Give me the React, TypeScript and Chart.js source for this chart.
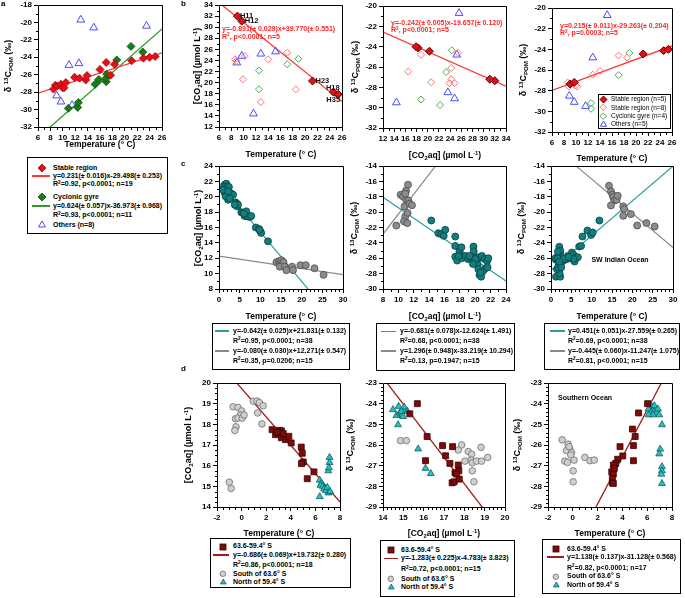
import React, { useEffect, useRef } from 'react';
import { Chart, registerables } from 'chart.js';

Chart.register(...registerables);

const FONT = "'Liberation Sans', Arial, Helvetica, sans-serif";

// ---------- panel a : d13C POM vs temperature ----------
const aStableT = [8.5, 8.8, 9.1, 9.7, 9.95, 10.2, 10.5, 11.9, 12.7, 13.7, 13.9, 16.0, 17.0, 17.7, 18.35, 21.1, 23.0, 24.0, 24.9];
const aStableD13C = [-27.65, -27.2, -27.3, -27.1, -27.5, -27.5, -26.9, -26.3, -26.4, -26.6, -26.1, -25.4, -24.6, -26.05, -24.8, -24.4, -24.1, -24.0, -23.9];
const aGyreT = [10.9, 12.4, 12.5, 15.2, 15.8, 17.0, 17.0, 17.1, 18.7, 21.0, 22.9];
const aGyreD13C = [-29.85, -29.75, -29.2, -27.1, -26.55, -26.8, -26.4, -25.95, -24.3, -22.75, -23.4];
const aOtherT = [12.9, 15.0, 11.0, 12.6, 9.0, 9.7, 11.5, 23.5];
const aOtherD13C = [-19.7, -20.6, -24.9, -24.7, -28.4, -29.1, -29.5, -20.4];
const aFitStable = [0.231, -29.498];
const aFitGyre = [0.624, -36.973];

// ---------- panel b : stations ----------
const bHNames = ['H11', 'H12', 'H23', 'H18', 'H35'];
const bHT = [9.0, 9.7, 21.2, 24.6, 25.4];
const bHCO2 = [32.0, 31.1, 20.3, 18.3, 17.9];
const bHD13C = [-27.35, -27.2, -24.45, -24.13, -24.0];
const bStableT = [8.6, 8.8, 10.2, 9.9, 14.0, 17.1, 12.8, 18.5];
const bStableCO2 = [24.2, 23.9, 24.8, 20.6, 24.2, 25.4, 16.5, 18.8];
const bStableD13C = [-27.2, -27.6, -27.6, -27.5, -26.1, -24.6, -26.45, -24.8];
const bGyreT = [12.5, 12.5, 17.1, 18.9];
const bGyreCO2 = [22.2, 18.8, 23.3, 24.3];
const bGyreD13C = [-29.75, -29.2, -26.5, -24.35];
const bOtherT = [8.9, 9.7, 12.8, 15.2, 11.6];
const bOtherCO2 = [23.6, 24.8, 25.2, 25.6, 14.4];
const bOtherD13C = [-28.5, -29.1, -24.8, -20.7, -29.5];
const bFit1 = [-0.891, 39.77];
const bFit2 = [-0.242, -19.657];
const bFit3 = [0.215, -29.263];

// ---------- panel c : SW Indian Ocean ----------
const c1TealT = [1.37, 1.77, 1.2, 1.6, 2.0, 2.4, 1.37, 1.77, 2.0, 2.2, 2.4, 2.7, 3.0, 3.4, 1.9, 1.6, 4.0, 4.35, 4.35, 4.6, 5.4, 5.8, 6.2, 6.6, 6.8, 7.4, 7.8, 8.9, 9.7, 10.0, 10.2, 11.85, 0.97, 2.26, 2.6, 3.8, 6.05, 9.8];
const c1TealCO2 = [21.57, 21.7, 21.26, 21.0, 21.35, 21.26, 20.5, 20.27, 19.97, 19.6, 20.3, 20.1, 20.4, 20.27, 20.7, 20.05, 19.27, 19.1, 18.75, 18.97, 17.97, 17.9, 17.5, 18.1, 17.45, 17.37, 17.5, 16.0, 15.8, 15.5, 15.3, 14.2, 20.9, 20.7, 19.8, 18.97, 17.8, 15.7];
const c1GrayT = [13.9, 14.5, 14.8, 15.1, 15.3, 15.6, 14.7, 15.9, 16.3, 17.7, 17.9, 19.7, 21.0, 23.1, 25.3];
const c1GrayCO2 = [11.48, 11.6, 11.3, 11.75, 11.05, 11.5, 10.9, 10.9, 10.45, 10.9, 10.45, 11.1, 11.1, 10.7, 9.84];
const c2TealCO2 = [14.28, 15.2, 15.6, 15.9, 16.1, 17.4, 17.4, 17.4, 17.65, 17.95, 18.2, 18.1, 18.25, 18.75, 19.05, 19.4, 19.77, 19.8, 19.77, 20.1, 20.2, 20.3, 20.4, 20.55, 20.77, 20.55, 20.86, 21.2, 21.33, 21.55, 21.7, 21.0, 20.0, 17.83, 20.7, 21.6, 19.26, 19.7];
const c2TealD13C = [-21.09, -22.74, -22.87, -23.08, -22.3, -23.17, -24.4, -25.8, -26.3, -25.1, -24.57, -25.7, -26.0, -25.7, -26.1, -26.0, -24.48, -25.1, -26.2, -25.87, -26.4, -26.85, -27.4, -28.17, -28.4, -25.87, -25.7, -26.1, -27.3, -26.35, -26.0, -27.7, -26.1, -25.7, -27.87, -27.17, -25.7, -26.74];
const c2GrayCO2 = [9.73, 10.3, 10.6, 10.8, 10.9, 10.73, 11.16, 11.0, 11.25, 11.0, 11.3, 11.2, 11.46, 11.77, 10.9];
const c2GrayD13C = [-21.74, -17.74, -17.96, -19.26, -20.57, -21.2, -21.43, -17.2, -16.43, -18.4, -18.48, -20.1, -18.9, -19.1, -17.6];
const c3TealT = [1.22, 2.28, 2.1, 1.47, 1.87, 1.22, 1.47, 1.87, 2.28, 2.04, 2.28, 2.53, 2.85, 3.34, 3.9, 4.16, 4.73, 5.13, 5.54, 5.8, 6.1, 6.6, 6.93, 7.4, 7.74, 8.96, 9.86, 10.27, 11.9, 1.06, 1.63, 1.71, 3.1, 1.87, 2.53, 5.54, 4.32, 2.04];
const c3TealD13C = [-28.4, -28.4, -27.96, -27.43, -27.0, -26.2, -25.9, -25.7, -25.4, -24.5, -25.0, -26.1, -26.4, -26.2, -26.1, -25.7, -26.0, -25.26, -25.56, -26.43, -25.87, -25.87, -24.48, -24.4, -23.17, -22.4, -22.96, -22.65, -21.09, -26.0, -26.0, -25.13, -26.1, -27.2, -27.17, -26.1, -25.87, -26.43];
const c3GrayT = [14.26, 14.75, 15.1, 15.3, 15.57, 14.75, 16.14, 16.4, 17.77, 18.0, 17.77, 19.64, 21.19, 23.47, 25.5];
const c3GrayD13C = [-16.57, -17.3, -17.74, -18.04, -18.48, -19.13, -18.4, -17.87, -19.26, -19.6, -20.48, -20.26, -21.74, -21.43, -21.87];
const cFit1Teal = [-0.642, 21.831];
const cFit1Gray = [-0.080, 12.271];
const cFit2Teal = [-0.681, -12.624];
const cFit2Gray = [1.296, -33.219];
const cFit3Teal = [0.451, -27.559];
const cFit3Gray = [-0.445, -11.247];

// ---------- panel d : Southern Ocean ----------
const d1MidT = [2.48, 2.76, 3.08, 3.24, 3.16, 3.3, 3.24, 3.57, 3.84, 4.03, 4.85, 4.93, 5.01, 4.87, 5.88, 5.34, 2.89, 3.38];
const d1MidCO2 = [17.74, 17.5, 17.71, 17.68, 17.55, 17.42, 17.35, 17.26, 17.42, 17.1, 16.9, 16.6, 16.18, 16.1, 15.7, 15.37, 17.63, 17.55];
const d1SouthT = [-1.0, -0.85, -0.7, -0.3, 0.0, -0.1, -0.5, -0.3, 0.05, 0.2, -0.45, -0.55, 0.95, 1.25, 1.45, 1.75, 1.3, 1.65];
const d1SouthCO2 = [15.2, 14.9, 18.85, 18.82, 18.65, 18.45, 18.27, 18.3, 18.3, 18.45, 17.88, 17.7, 19.12, 19.13, 19.05, 18.9, 18.55, 18.02];
const d1NorthT = [6.35, 6.5, 6.42, 6.6, 6.7, 6.85, 6.97, 6.35, 7.05, 7.05, 7.15, 7.15, 7.1, 7.2];
const d1NorthCO2 = [15.3, 15.15, 15.05, 15.0, 14.88, 14.8, 14.95, 14.5, 14.68, 15.75, 16.4, 16.15, 15.9, 14.75];
const d2MidCO2 = [15.69, 15.32, 16.17, 16.93, 17.42, 17.08, 17.29, 17.7, 16.09, 17.54, 17.4, 17.5, 17.73, 17.75, 17.62];
const d2MidD13C = [-24.0, -24.49, -25.59, -26.03, -26.08, -26.52, -26.89, -26.97, -26.76, -27.34, -27.83, -27.78, -27.25, -27.65, -27.41];
const d2SouthCO2 = [14.86, 15.15, 17.87, 17.7, 18.19, 18.36, 18.03, 18.33, 18.39, 18.6, 18.85, 18.39, 18.47, 18.82, 19.15];
const d2SouthD13C = [-25.79, -25.79, -26.0, -26.24, -26.32, -26.45, -26.78, -26.73, -26.86, -26.78, -26.78, -27.25, -27.78, -26.11, -26.6];
const d2NorthCO2 = [14.49, 14.77, 14.66, 14.82, 14.94, 15.07, 15.2, 15.04, 14.9, 14.74, 15.73, 16.09, 16.35, 14.99];
const d2NorthD13C = [-24.29, -24.13, -24.57, -24.45, -24.54, -24.32, -24.37, -24.16, -24.37, -25.02, -26.19, -27.13, -27.38, -24.62];
const d3MidT = [6.03, 5.3, 4.81, 5.03, 4.89, 3.81, 4.03, 3.62, 3.46, 3.27, 4.89, 3.14, 3.27, 3.19, 3.19, 3.27, 3.35];
const d3MidD13C = [-24.0, -24.45, -25.23, -25.59, -26.03, -26.08, -26.53, -26.69, -26.89, -26.97, -26.76, -27.3, -27.41, -27.62, -27.83, -27.86, -27.13];
const d3SouthT = [-0.86, -0.38, -0.24, -0.51, -0.1, -0.16, -0.65, -0.43, 0.1, 0.03, 0.03, 0.97, 1.38, 1.73, -0.3];
const d3SouthD13C = [-25.75, -25.96, -26.2, -26.27, -26.37, -26.48, -26.78, -26.84, -26.73, -27.25, -27.78, -26.6, -26.76, -26.73, -26.08];
const d3NorthT = [6.24, 6.38, 6.57, 6.11, 6.32, 6.57, 6.78, 6.46, 6.11, 6.86, 6.97, 7.19, 7.05, 6.97, 7.19, 7.19, 7.14, 7.19];
const d3NorthD13C = [-24.05, -24.16, -24.1, -24.26, -24.42, -24.37, -24.42, -24.54, -24.54, -24.26, -24.54, -25.02, -26.2, -26.43, -27.05, -27.25, -27.41, -27.86];
const dFit1 = [-0.686, 19.732];
const dFit2 = [-1.283, -4.783];
const dFit3 = [1.138, -31.128];

// ---------- styles ----------
const C_RED = '#e3101a';
const C_RED_LINE = '#ff3838';
const C_GREEN = '#177d17';
const C_GREEN_LINE = '#2c9c2c';
const C_BLUE = '#4a4aff';
const C_PINK = '#ff7474';
const C_LGREEN = '#4cae4c';
const C_TEAL = '#107f7e';
const C_TEAL_LINE = '#2a9e9e';
const C_GRAY = '#8c8c8c';
const C_GRAY_LINE = '#8a8a8a';
const C_MAROON = '#7d0b0b';
const C_MAROON_LINE = '#a01c1c';
const C_LGRAY = '#cfcfcf';
const C_CYAN = '#22c3c6';
const C_EQ = '#ff2626';
const NONE = 'rgba(0,0,0,0)';

type Series = { x: number[]; y: number[]; shape: string; r: number; fill: string; stroke: string; bw: number };
type Fit = { k: number[]; span: number[]; color: string; w: number };
type Tag = { text: string; x: number; y: number; dx: number; dy: number };
type Spec = { box: number[]; xr: number[]; yr: number[]; series: Series[]; fits: Fit[]; tags?: Tag[] };

const PL = 40, PT = 8, PR = 8, PB = 24;

function ChartPanel({ spec }: { spec: Spec }) {
  const ref = useRef<HTMLCanvasElement | null>(null);
  const [l, t, r, b] = spec.box;
  const W = r - l + PL + PR;
  const H = b - t + PT + PB;
  useEffect(() => {
    const cv = ref.current;
    if (!cv) return;
    const ds: any[] = spec.series.map((s) => ({
      data: s.x.map((v, i) => ({ x: v, y: s.y[i] })),
      pointStyle: s.shape,
      pointRadius: s.r,
      pointHoverRadius: s.r,
      pointBackgroundColor: s.fill,
      pointBorderColor: s.stroke,
      pointBorderWidth: s.bw,
      backgroundColor: s.fill,
      borderColor: s.stroke,
      showLine: false,
    }));
    spec.fits.forEach((f) =>
      ds.push({
        data: f.span.map((x) => ({ x, y: f.k[0] * x + f.k[1] })),
        showLine: true,
        pointRadius: 0,
        borderColor: f.color,
        borderWidth: f.w,
        fill: false,
      })
    );
    const tickFont = { family: FONT, size: 8, weight: 'bold' };
    const mk = (rng: number[], pos: string, horiz: boolean) => ({
      type: 'linear',
      position: pos,
      min: rng[0],
      max: rng[1],
      ticks: {
        stepSize: rng[2],
        color: '#000',
        font: tickFont,
        padding: 2,
        maxRotation: 0,
        autoSkip: false,
        callback: (v: any) => String(Math.round(Number(v) * 1000) / 1000),
      },
      grid: { display: true, drawOnChartArea: false, drawTicks: true, tickLength: 4, color: '#000', tickColor: '#000', lineWidth: 1, tickWidth: 1 },
      border: { display: false },
      title: { display: false },
      afterFit: (sc: any) => {
        if (horiz) sc.height = PB;
        else sc.width = PL;
      },
    });
    const deco = {
      id: 'deco',
      afterDraw(ch: any) {
        const { ctx, chartArea: a } = ch;
        const sx = ch.scales.x;
        const sy = ch.scales.y;
        ctx.save();
        ctx.strokeStyle = '#000';
        ctx.lineWidth = 1;
        const L = Math.round(a.left) + 0.5;
        const T = Math.round(a.top) + 0.5;
        const R = Math.round(a.right) + 0.5;
        const B = Math.round(a.bottom) + 0.5;
        ctx.beginPath();
        ctx.rect(L, T, R - L, B - T);
        ctx.stroke();
        const minor = (rng: number[], cb: (v: number) => void) => {
          const n = Math.round((rng[1] - rng[0]) / rng[3]);
          for (let i = 0; i <= n; i++) {
            const v = rng[0] + i * rng[3];
            const q = v / rng[2];
            if (Math.abs(q - Math.round(q)) < 1e-6) continue;
            cb(v);
          }
        };
        ctx.beginPath();
        minor(spec.xr, (v) => {
          const p = Math.round(sx.getPixelForValue(v)) + 0.5;
          ctx.moveTo(p, B);
          ctx.lineTo(p, B + 2.5);
        });
        minor(spec.yr, (v) => {
          const p = Math.round(sy.getPixelForValue(v)) + 0.5;
          ctx.moveTo(L, p);
          ctx.lineTo(L - 2.5, p);
        });
        ctx.stroke();
        if (spec.tags) {
          ctx.fillStyle = '#111';
          ctx.font = `bold 7.5px ${FONT}`;
          ctx.textBaseline = 'middle';
          ctx.textAlign = 'left';
          spec.tags.forEach((tg) => ctx.fillText(tg.text, sx.getPixelForValue(tg.x) + tg.dx, sy.getPixelForValue(tg.y) + tg.dy));
        }
        ctx.restore();
      },
    };
    const chart = new Chart(cv, {
      type: 'scatter',
      data: { datasets: ds },
      options: {
        responsive: false,
        maintainAspectRatio: false,
        animation: false,
        events: [],
        layout: { padding: { left: 0, top: PT, right: PR, bottom: 0 } },
        plugins: { legend: { display: false }, tooltip: { enabled: false }, title: { display: false } },
        scales: { x: mk(spec.xr, 'bottom', true), y: mk(spec.yr, 'left', false) } as any,
      },
      plugins: [deco],
    } as any);
    return () => chart.destroy();
  }, []);
  return <canvas ref={ref} width={W} height={H} style={{ position: 'absolute', left: l - PL, top: t - PT, width: W, height: H }} />;
}

// ---------- panel specs ----------
const ser = (x: number[], y: number[], shape: string, r: number, fill: string, stroke: string, bw = 1): Series => ({ x, y, shape, r, fill, stroke, bw });
const tagOffsets = [[2.5, 0], [3, 0], [3, 0], [-7.5, -4.5], [-12, 5.7]];

const specs: Spec[] = [
  {
    box: [38, 5, 162, 127], xr: [6, 26, 2, 1], yr: [-32, -18, 2, 1],
    series: [
      ser(aStableT, aStableD13C, 'rectRot', 4, C_RED, '#b00000', 0.8),
      ser(aGyreT, aGyreD13C, 'rectRot', 4, C_GREEN, '#0b4d0b', 0.8),
      ser(aOtherT, aOtherD13C, 'triangle', 4.5, NONE, C_BLUE, 1),
    ],
    fits: [
      { k: aFitStable, span: [6, 26], color: C_RED_LINE, w: 1.3 },
      { k: aFitGyre, span: [6, 26], color: C_GREEN_LINE, w: 1.3 },
    ],
  },
  {
    box: [219, 5, 342, 127], xr: [6, 26, 2, 1], yr: [12, 34, 2, 1],
    series: [
      ser(bHT, bHCO2, 'rectRot', 4, C_RED, '#5a0000', 1),
      ser(bStableT, bStableCO2, 'rectRot', 3.5, NONE, C_PINK, 1),
      ser(bGyreT, bGyreCO2, 'rectRot', 3.5, NONE, C_LGREEN, 1),
      ser(bOtherT, bOtherCO2, 'triangle', 4.5, NONE, C_BLUE, 1),
    ],
    fits: [{ k: bFit1, span: [6, 26], color: C_RED_LINE, w: 1.3 }],
    tags: bHNames.map((n, i) => ({ text: n, x: bHT[i], y: bHCO2[i], dx: tagOffsets[i][0], dy: tagOffsets[i][1] })),
  },
  {
    box: [383, 6, 506, 128], xr: [12, 34, 2, 1], yr: [-32, -20, 2, 1],
    series: [
      ser(bHCO2, bHD13C, 'rectRot', 4, C_RED, '#5a0000', 1),
      ser(bStableCO2, bStableD13C, 'rectRot', 3.5, NONE, C_PINK, 1),
      ser(bGyreCO2, bGyreD13C, 'rectRot', 3.5, NONE, C_LGREEN, 1),
      ser(bOtherCO2, bOtherD13C, 'triangle', 4.5, NONE, C_BLUE, 1),
    ],
    fits: [{ k: bFit2, span: [12, 34], color: C_RED_LINE, w: 1.3 }],
  },
  {
    box: [552, 8, 672, 132], xr: [6, 26, 2, 1], yr: [-32, -20, 2, 1],
    series: [
      ser(bHT, bHD13C, 'rectRot', 4, C_RED, '#5a0000', 1),
      ser(bStableT, bStableD13C, 'rectRot', 3.5, NONE, C_PINK, 1),
      ser(bGyreT, bGyreD13C, 'rectRot', 3.5, NONE, C_LGREEN, 1),
      ser(bOtherT, bOtherD13C, 'triangle', 4.5, NONE, C_BLUE, 1),
    ],
    fits: [{ k: bFit3, span: [6, 26], color: C_RED_LINE, w: 1.3 }],
  },
  {
    box: [219, 166, 343, 289], xr: [0, 30, 5, 1], yr: [8, 24, 2, 1],
    series: [
      ser(c1TealT, c1TealCO2, 'circle', 3.5, C_TEAL, '#0a4040', 0.8),
      ser(c1GrayT, c1GrayCO2, 'circle', 3.5, C_GRAY, '#4a4a4a', 0.8),
    ],
    fits: [
      { k: cFit1Teal, span: [0, 30], color: C_TEAL_LINE, w: 1.2 },
      { k: cFit1Gray, span: [0, 30], color: C_GRAY_LINE, w: 1.2 },
    ],
  },
  {
    box: [383, 166, 506, 289], xr: [8, 24, 2, 1], yr: [-30, -14, 2, 1],
    series: [
      ser(c2TealCO2, c2TealD13C, 'circle', 3.5, C_TEAL, '#0a4040', 0.8),
      ser(c2GrayCO2, c2GrayD13C, 'circle', 3.5, C_GRAY, '#4a4a4a', 0.8),
    ],
    fits: [
      { k: cFit2Teal, span: [8, 24], color: C_TEAL_LINE, w: 1.2 },
      { k: cFit2Gray, span: [8, 24], color: C_GRAY_LINE, w: 1.2 },
    ],
  },
  {
    box: [551, 166, 673, 289], xr: [0, 30, 5, 1], yr: [-30, -14, 2, 1],
    series: [
      ser(c3TealT, c3TealD13C, 'circle', 3.5, C_TEAL, '#0a4040', 0.8),
      ser(c3GrayT, c3GrayD13C, 'circle', 3.5, C_GRAY, '#4a4a4a', 0.8),
    ],
    fits: [
      { k: cFit3Teal, span: [0, 30], color: C_TEAL_LINE, w: 1.2 },
      { k: cFit3Gray, span: [0, 30], color: C_GRAY_LINE, w: 1.2 },
    ],
  },
  {
    box: [217, 383, 340, 507], xr: [-2, 8, 2, 0.5], yr: [14, 20, 1, 0.25],
    series: [
      ser(d1MidT, d1MidCO2, 'rect', 4.2, C_MAROON, '#3a0000', 0.8),
      ser(d1SouthT, d1SouthCO2, 'circle', 3.3, C_LGRAY, '#6e6e6e', 0.8),
      ser(d1NorthT, d1NorthCO2, 'triangle', 4, C_CYAN, '#145a5a', 0.8),
    ],
    fits: [{ k: dFit1, span: [-2, 8], color: C_MAROON_LINE, w: 1.3 }],
  },
  {
    box: [383, 383, 505, 507], xr: [14, 20, 1, 0.2], yr: [-29, -23, 1, 0.2],
    series: [
      ser(d2MidCO2, d2MidD13C, 'rect', 4.2, C_MAROON, '#3a0000', 0.8),
      ser(d2SouthCO2, d2SouthD13C, 'circle', 3.3, C_LGRAY, '#6e6e6e', 0.8),
      ser(d2NorthCO2, d2NorthD13C, 'triangle', 4, C_CYAN, '#145a5a', 0.8),
    ],
    fits: [{ k: dFit2, span: [14, 20], color: C_MAROON_LINE, w: 1.3 }],
  },
  {
    box: [548, 383, 672, 507], xr: [-2, 8, 2, 0.5], yr: [-29, -23, 1, 0.2],
    series: [
      ser(d3MidT, d3MidD13C, 'rect', 4.2, C_MAROON, '#3a0000', 0.8),
      ser(d3SouthT, d3SouthD13C, 'circle', 3.3, C_LGRAY, '#6e6e6e', 0.8),
      ser(d3NorthT, d3NorthD13C, 'triangle', 4, C_CYAN, '#145a5a', 0.8),
    ],
    fits: [{ k: dFit3, span: [-2, 8], color: C_MAROON_LINE, w: 1.3 }],
  },
];

// ---------- text helpers ----------
const Sup = ({ children }: any) => <span style={{ fontSize: '0.68em', position: 'relative', top: '-0.55em' }}>{children}</span>;
const Sub = ({ children }: any) => <span style={{ fontSize: '0.68em', position: 'relative', top: '0.35em' }}>{children}</span>;

function Tx({ x, y, s = 7, w = 700, c = '#000', center = false, children }: any) {
  const lh = s * 1.2;
  return (
    <div style={{ position: 'absolute', left: x, top: y - lh / 2, fontSize: s, lineHeight: `${lh}px`, fontFamily: FONT, fontWeight: w, color: c, whiteSpace: 'nowrap', transform: center ? 'translateX(-50%)' : undefined }}>
      {children}
    </div>
  );
}
function VTx({ x, y, s = 9, children }: any) {
  return (
    <div style={{ position: 'absolute', left: x, top: y, fontSize: s, lineHeight: `${s * 1.2}px`, fontFamily: FONT, fontWeight: 700, whiteSpace: 'nowrap', transform: 'translate(-50%,-50%) rotate(-90deg)' }}>
      {children}
    </div>
  );
}
function Box({ l, t, r, b }: any) {
  return <div style={{ position: 'absolute', left: l, top: t, width: r - l, height: b - t, border: '1px solid #000', boxSizing: 'border-box', background: '#fff' }} />;
}
function LineMark({ x0, x1, y, c }: any) {
  return <div style={{ position: 'absolute', left: x0, top: y - 0.75, width: x1 - x0, height: 1.5, background: c }} />;
}
function Mark({ x, y, kind, fill, stroke, r, sw = 1 }: any) {
  const s = 2 * r + 4;
  const c = s / 2;
  let shape: any = null;
  if (kind === 'diamond') shape = <polygon points={`${c},${c - r} ${c + r},${c} ${c},${c + r} ${c - r},${c}`} fill={fill} stroke={stroke} strokeWidth={sw} />;
  else if (kind === 'tri') shape = <polygon points={`${c},${c - r} ${c + r * 0.866},${c + r * 0.5} ${c - r * 0.866},${c + r * 0.5}`} fill={fill} stroke={stroke} strokeWidth={sw} />;
  else if (kind === 'circle') shape = <circle cx={c} cy={c} r={r} fill={fill} stroke={stroke} strokeWidth={sw} />;
  else shape = <rect x={c - r} y={c - r} width={2 * r} height={2 * r} fill={fill} stroke={stroke} strokeWidth={sw} />;
  return (
    <svg width={s} height={s} style={{ position: 'absolute', left: x - c, top: y - c, overflow: 'visible' }}>
      {shape}
    </svg>
  );
}

const D13 = () => (
  <>
    δ <Sup>13</Sup>C<Sub>POM</Sub> (‰)
  </>
);
const CO2T = () => (
  <>
    [CO<Sub>2</Sub>aq] (µmol L<Sup>-1</Sup>)
  </>
);
const R2 = ({ t }: any) => (
  <>
    R<Sup>2</Sup>
    {t}
  </>
);
const TEMP = 'Temperature (° C)';

export default function App() {
  return (
    <div style={{ position: 'absolute', left: 0, top: 0, width: 685, height: 598, background: '#fff', overflow: 'hidden' }}>
      {specs.map((s, i) => (
        <ChartPanel key={i} spec={s} />
      ))}

      {/* panel letters */}
      <Tx x={1} y={4} s={8}>a</Tx>
      <Tx x={181} y={4} s={8}>b</Tx>
      <Tx x={181} y={164} s={8}>c</Tx>
      <Tx x={181} y={369} s={8}>d</Tx>

      {/* axis titles */}
      <Tx x={100} y={144} s={8.5} center>{TEMP}</Tx>
      <Tx x={281} y={154} s={8.5} center>{TEMP}</Tx>
      <Tx x={445} y={155} s={8.5} center><CO2T /></Tx>
      <Tx x={612} y={158} s={8.5} center>{TEMP}</Tx>
      <Tx x={281} y={316} s={8.5} center>{TEMP}</Tx>
      <Tx x={445} y={316.5} s={8.5} center><CO2T /></Tx>
      <Tx x={612} y={316} s={8.5} center>{TEMP}</Tx>
      <Tx x={279} y={533} s={8.5} center>{TEMP}</Tx>
      <Tx x={444} y={533} s={8.5} center><CO2T /></Tx>
      <Tx x={610} y={533} s={8.5} center>{TEMP}</Tx>

      <VTx x={9} y={66}><D13 /></VTx>
      <VTx x={198} y={66}><CO2T /></VTx>
      <VTx x={356} y={67}><D13 /></VTx>
      <VTx x={524} y={70}><D13 /></VTx>
      <VTx x={199} y={227.5}><CO2T /></VTx>
      <VTx x={355} y={227.5}><D13 /></VTx>
      <VTx x={522} y={227.5}><D13 /></VTx>
      <VTx x={189} y={445}><CO2T /></VTx>
      <VTx x={351} y={445}><D13 /></VTx>
      <VTx x={518} y={445}><D13 /></VTx>

      {/* in-plot equations (panel b) */}
      <Tx x={222} y={29} c={C_EQ}>y=-0.891(± 0.029)x+39.770(± 0.551)</Tx>
      <Tx x={222} y={37} c={C_EQ}><R2 t={', p<0.0001; n=5'} /></Tx>
      <Tx x={391} y={22.7} c={C_EQ}>y=-0.242(± 0.005)x-19.657(± 0.120)</Tx>
      <Tx x={391} y={30.5} c={C_EQ}><R2 t={', p<0.0001; n=5'} /></Tx>
      <Tx x={560} y={26} c={C_EQ}>y=0.215(± 0.011)x-29.263(± 0.204)</Tx>
      <Tx x={560} y={33.5} c={C_EQ}><R2 t={', p=0.0003; n=5'} /></Tx>

      <Tx x={620} y={260} s={7} center>SW Indian Ocean</Tx>
      <Tx x={558} y={398} s={7}>Southern Ocean</Tx>

      {/* legend a */}
      <Box l={27} t={157} r={168} b={234} />
      <Mark x={42} y={168} kind="diamond" r={4} fill={C_RED} stroke="#b00000" sw={0.8} />
      <Tx x={53} y={168}>Stable region</Tx>
      <LineMark x0={32} x1={50} y={176} c={C_RED_LINE} />
      <Tx x={53} y={176}>y=0.231(± 0.016)x-29.498(± 0.253)</Tx>
      <Tx x={53} y={184.5}><R2 t={'=0.92, p<0.0001; n=19'} /></Tx>
      <Mark x={42} y={197} kind="diamond" r={4} fill={C_GREEN} stroke="#0b4d0b" sw={0.8} />
      <Tx x={53} y={197}>Cyclonic gyre</Tx>
      <LineMark x0={32} x1={50} y={206} c={C_GREEN_LINE} />
      <Tx x={53} y={206}>y=0.624(± 0.057)x-36.973(± 0.968)</Tx>
      <Tx x={53} y={215.5}><R2 t={'=0.93, p<0.0001; n=11'} /></Tx>
      <Mark x={42} y={225} kind="tri" r={4} fill="none" stroke={C_BLUE} />
      <Tx x={53} y={225}>Others (n=8)</Tx>

      {/* legend b3 */}
      <Box l={598} t={94} r={671} b={129} />
      <Mark x={603} y={99} kind="diamond" r={3.5} fill={C_RED} stroke="#5a0000" />
      <Tx x={611} y={99} s={6.5} w={400}>Stable region (n=5)</Tx>
      <Mark x={603} y={107.5} kind="diamond" r={3.2} fill="none" stroke={C_PINK} />
      <Tx x={611} y={107.5} s={6.5} w={400}>Stable region (n=8)</Tx>
      <Mark x={603} y={116} kind="diamond" r={3.2} fill="none" stroke={C_LGREEN} />
      <Tx x={611} y={116} s={6.5} w={400}>Cyclonic gyre (n=4)</Tx>
      <Mark x={603} y={124} kind="tri" r={3.5} fill="none" stroke={C_BLUE} />
      <Tx x={611} y={124} s={6.5} w={400}>Others (n=5)</Tx>

      {/* legends c */}
      <Box l={212} t={323} r={350} b={370} />
      <LineMark x0={215} x1={229} y={331} c={C_TEAL_LINE} />
      <Tx x={233} y={331}>y=-0.642(± 0.025)x+21.831(± 0.132)</Tx>
      <Tx x={233} y={341}><R2 t={'=0.95, p<0.0001; n=38'} /></Tx>
      <LineMark x0={215} x1={229} y={351} c={C_GRAY_LINE} />
      <Tx x={233} y={351}>y=-0.080(± 0.030)x+12.271(± 0.547)</Tx>
      <Tx x={233} y={361}><R2 t={'=0.35, p=0.0206; n=15'} /></Tx>

      <Box l={376} t={323} r={515} b={371} />
      <LineMark x0={381} x1={396} y={331.5} c={C_TEAL_LINE} />
      <Tx x={400} y={331.5}>y=-0.681(± 0.078)x-12.624(± 1.491)</Tx>
      <Tx x={400} y={341.5}><R2 t={'=0.68, p<0.0001; n=38'} /></Tx>
      <LineMark x0={381} x1={396} y={351} c={C_GRAY_LINE} />
      <Tx x={400} y={351}>y=1.296(± 0.948)x-33.219(± 10.294)</Tx>
      <Tx x={400} y={361}><R2 t={'=0.13, p=0.1947; n=15'} /></Tx>

      <Box l={544} t={323} r={680} b={370} />
      <LineMark x0={550} x1={565} y={331} c={C_TEAL_LINE} />
      <Tx x={568} y={331}>y=0.451(± 0.051)x-27.559(± 0.265)</Tx>
      <Tx x={568} y={341}><R2 t={'=0.69, p<0.0001; n=38'} /></Tx>
      <LineMark x0={550} x1={565} y={351} c={C_GRAY_LINE} />
      <Tx x={568} y={351}>y=-0.445(± 0.060)x-11.247(± 1.075)</Tx>
      <Tx x={568} y={361}><R2 t={'=0.81, p<0.0001; n=15'} /></Tx>

      {/* legends d */}
      <Box l={210} t={538} r={351} b={588} />
      <Mark x={223} y={546.5} kind="square" r={3} fill={C_MAROON} stroke="#3a0000" sw={0.8} />
      <Tx x={233} y={546.5}>63.6-59.4° S</Tx>
      <LineMark x0={213} x1={229} y={555} c={C_MAROON_LINE} />
      <Tx x={233} y={555}>y=-0.686(± 0.069)x+19.732(± 0.280)</Tx>
      <Tx x={233} y={565}><R2 t={'=0.86, p<0.0001; n=18'} /></Tx>
      <Mark x={223} y={574} kind="circle" r={2.8} fill={C_LGRAY} stroke="#6e6e6e" sw={0.8} />
      <Tx x={233} y={574}>South of 63.6° S</Tx>
      <Mark x={223} y={582.5} kind="tri" r={3.3} fill={C_CYAN} stroke="#145a5a" sw={0.8} />
      <Tx x={233} y={582.5}>North of 59.4° S</Tx>

      <Box l={380} t={540} r={515} b={597} />
      <Mark x={391} y={550} kind="square" r={3} fill={C_MAROON} stroke="#3a0000" sw={0.8} />
      <Tx x={401} y={550}>63.6-59.4° S</Tx>
      <LineMark x0={384} x1={398} y={558.5} c={C_MAROON_LINE} />
      <Tx x={401} y={558.5}>y=-1.283(± 0.225)x-4.783(± 3.823)</Tx>
      <Tx x={401} y={569.5}><R2 t={'=0.72, p<0.0001; n=15'} /></Tx>
      <Mark x={391} y={579} kind="circle" r={2.8} fill={C_LGRAY} stroke="#6e6e6e" sw={0.8} />
      <Tx x={401} y={579}>South of 63.6° S</Tx>
      <Mark x={391} y={587.5} kind="tri" r={3.3} fill={C_CYAN} stroke="#145a5a" sw={0.8} />
      <Tx x={401} y={587.5}>North of 59.4° S</Tx>

      <Box l={542} t={539} r={681} b={594} />
      <Mark x={556} y={549} kind="square" r={3} fill={C_MAROON} stroke="#3a0000" sw={0.8} />
      <Tx x={567} y={549}>63.6-59.4° S</Tx>
      <LineMark x0={547} x1={564} y={557} c={C_MAROON_LINE} />
      <Tx x={567} y={557}>y=1.138(± 0.137)x-31.128(± 0.568)</Tx>
      <Tx x={567} y={568}><R2 t={'=0.82, p<0.0001; n=17'} /></Tx>
      <Mark x={556} y={576.5} kind="circle" r={2.8} fill={C_LGRAY} stroke="#6e6e6e" sw={0.8} />
      <Tx x={567} y={576.5}>South of 63.6° S</Tx>
      <Mark x={556} y={585.5} kind="tri" r={3.3} fill={C_CYAN} stroke="#145a5a" sw={0.8} />
      <Tx x={567} y={585.5}>North of 59.4° S</Tx>
    </div>
  );
}
